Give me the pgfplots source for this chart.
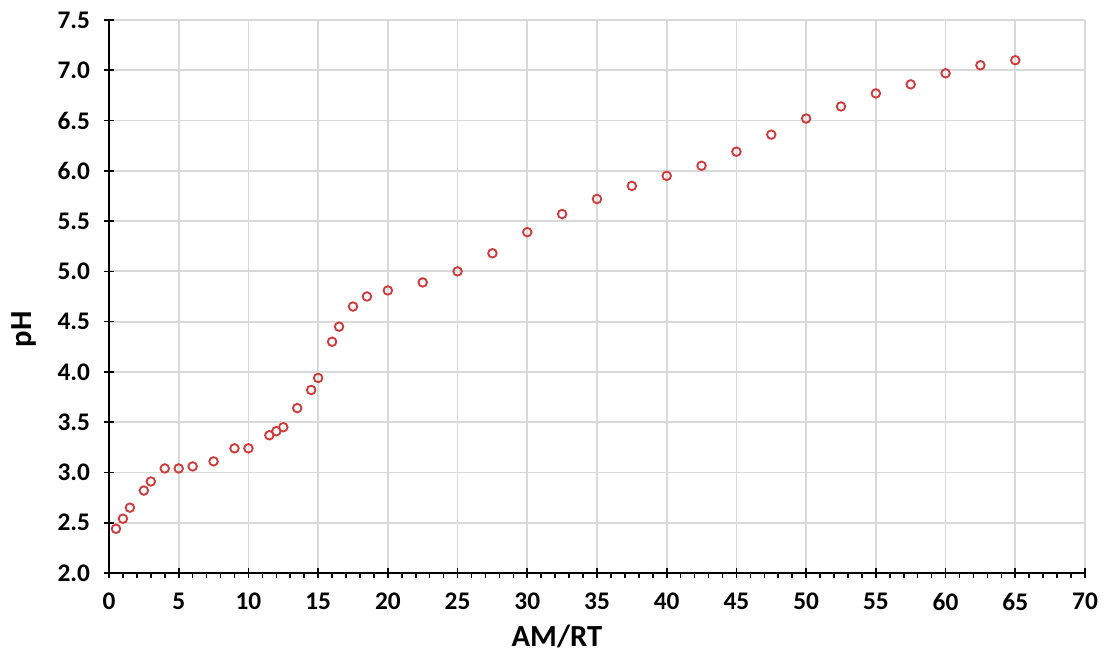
\documentclass[border=0pt]{standalone}
\usepackage{fontspec}
\setmainfont{Carlito}
\usepackage{pgfplots}
\pgfplotsset{compat=1.18}
\definecolor{gridc}{HTML}{D9D9D9}
\definecolor{mk}{HTML}{D03A3A}
\begin{document}
\begin{tikzpicture}
\path[use as bounding box] (-81.75pt,-67.5pt) rectangle (747.75pt,429.75pt);
\begin{axis}[
  at={(0,0)}, anchor=south west,
  scale only axis, width=732pt, height=414.75pt,
  xmin=0, xmax=70, ymin=2, ymax=7.5,
  xtick distance=5, ytick distance=0.5,
  minor x tick num=4,
  axis x line*=bottom, axis y line*=left,
  axis line style={black, line width=1.4pt},
  tick align=center,
  major tick length=7.5pt,
  minor tick length=3.75pt,
  every tick/.style={black, line width=1.2pt},
  minor x tick style={yshift=-1.875pt},
  grid=major,
  major grid style={gridc, line width=1.3pt},
  /pgf/number format/assume math mode=true,
  ticklabel style={font=\bfseries\fontsize{19}{22}\selectfont},
  yticklabel style={xshift=-7pt, /pgf/number format/.cd, fixed, fixed zerofill, precision=1},
  xticklabel style={yshift=-8pt, /pgf/number format/.cd, fixed, precision=0},
  xlabel={AM/RT},
  ylabel={pH},
  label style={font=\bfseries\fontsize{23}{27}\selectfont},
  xlabel style={at={(axis description cs:0.459,-0.114)}, anchor=center},
  ylabel style={at={(axis description cs:-0.0876,0.441)}, anchor=center},
  clip=false,
]
\addplot[only marks, mark=o, mark size=3.2pt, mark options={mk, line width=1.4pt, fill=white}] coordinates {
(0.5,2.44) (1,2.54) (1.5,2.65) (2.5,2.82) (3,2.91) (4,3.04) (5,3.04) (6,3.06)
(7.5,3.11) (9,3.24) (10,3.24) (11.5,3.37) (12,3.41) (12.5,3.45) (13.5,3.64)
(14.5,3.82) (15,3.94) (16,4.30) (16.5,4.45) (17.5,4.65) (18.5,4.75) (20,4.81)
(22.5,4.89) (25,5.00) (27.5,5.18) (30,5.39) (32.5,5.57) (35,5.72) (37.5,5.85)
(40,5.95) (42.5,6.05) (45,6.19) (47.5,6.36) (50,6.52) (52.5,6.64) (55,6.77)
(57.5,6.86) (60,6.97) (62.5,7.05) (65,7.10)
};
\end{axis}
\end{tikzpicture}
\end{document}
